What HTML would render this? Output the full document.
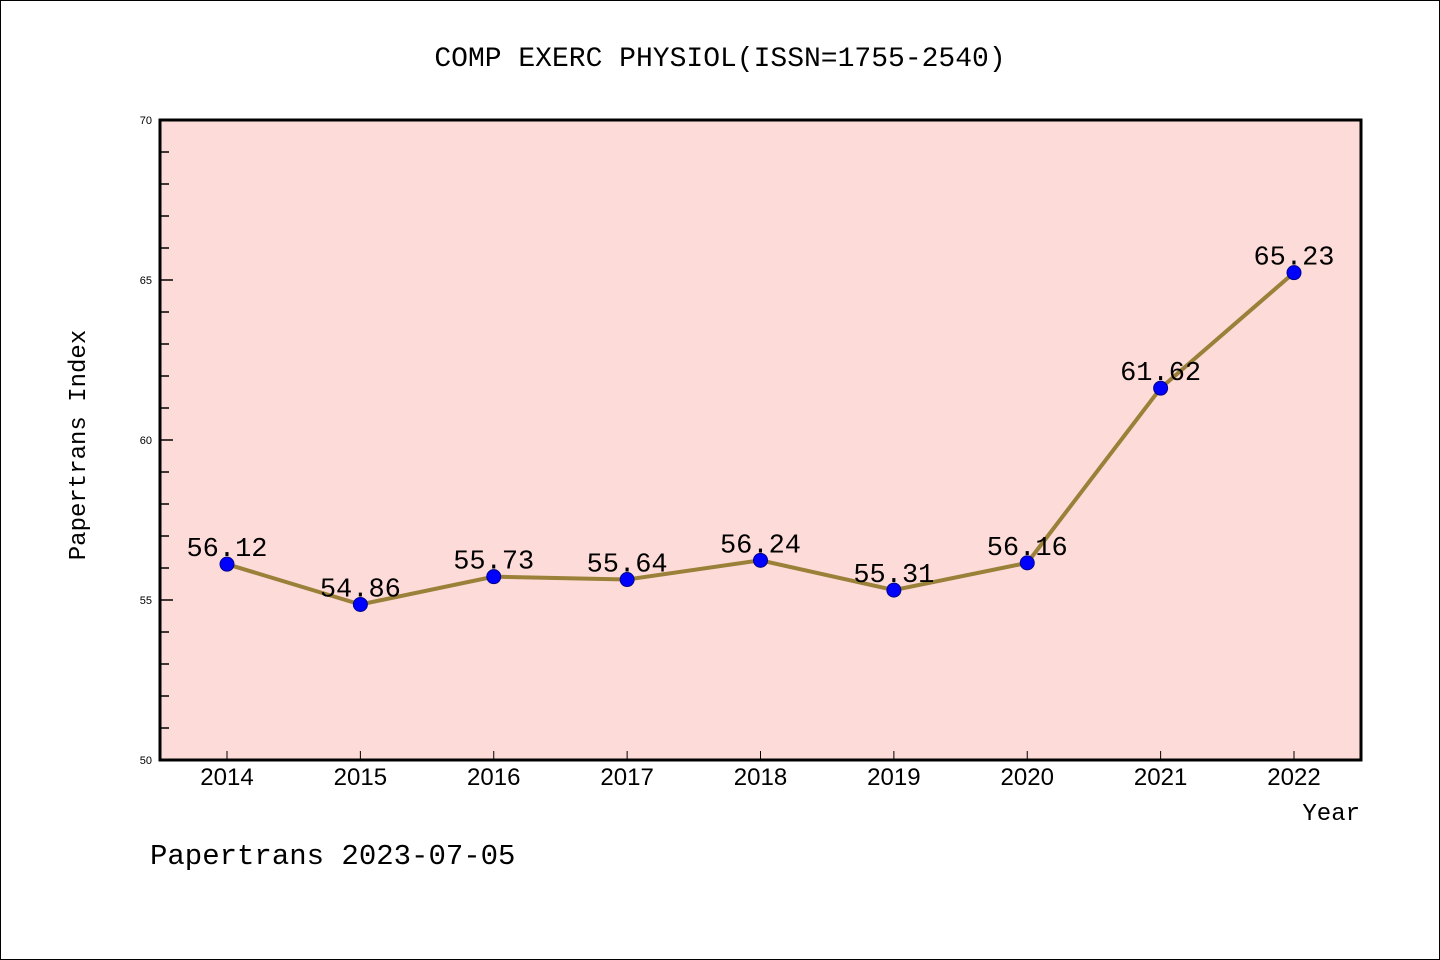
<!DOCTYPE html>
<html><head><meta charset="utf-8"><style>
body{margin:0;background:#fff}
svg{display:block;font-family:"Liberation Mono","WenQuanYi Zen Hei",monospace}
</style></head><body>
<svg id="chart" width="1440" height="960" viewBox="0 0 1440 960">
<rect x="0.5" y="0.5" width="1439" height="959" fill="#fff" stroke="#000"/>
<text x="720" y="66" text-anchor="middle" font-size="28">COMP EXERC PHYSIOL(ISSN=1755-2540)</text>
<rect x="160" y="120" width="1201" height="640" fill="#fddbd8"/>
<g id="yaxis"></g>
<g id="xaxis"></g>
<g id="series"></g>
<rect x="160" y="120" width="1201" height="640" fill="none" stroke="#000" stroke-width="3"/>
<text transform="translate(85,445) rotate(-90)" text-anchor="middle" font-size="24">Papertrans Index</text>
<text x="1360" y="820" text-anchor="end" font-size="24">Year</text>
<text x="150" y="864" font-size="29">Papertrans 2023-07-05</text>
</svg>
<script>
const years = ["2014","2015","2016","2017","2018","2019","2020","2021","2022"];
const values = [56.12,54.86,55.73,55.64,56.24,55.31,56.16,61.62,65.23];
const yTicks = [50,55,60,65,70];
const NS="http://www.w3.org/2000/svg";
const X0=227,XS=(1294-227)/8,yMin=50,yMax=70,Ytop=120,Ybot=760;
const xs=i=>X0+i*XS;
const ys=v=>Ybot-(v-yMin)/(yMax-yMin)*(Ybot-Ytop);
function mk(t,a,p){const e=document.createElementNS(NS,t);for(const k in a)e.setAttribute(k,a[k]);p.appendChild(e);return e;}
const ya=document.getElementById('yaxis'),xa=document.getElementById('xaxis'),se=document.getElementById('series');
for(let v=yMin;v<=yMax;v++){
  const major=yTicks.includes(v);
  const l=mk('line',{x1:160,x2:major?173:169,y1:ys(v),y2:ys(v),stroke:'#000','stroke-width':1.5},ya);
  
  
}
yTicks.forEach(v=>{
  const t=mk('text',{x:152,y:ys(v)+4,'text-anchor':'end','font-size':11,'font-family':'Liberation Sans,sans-serif'},ya);
  t.textContent=v;
  
  
});
years.forEach((y,i)=>{
  const l=mk('line',{x1:xs(i),x2:xs(i),y1:Ybot,y2:Ybot-9,stroke:'#000','stroke-width':1},xa);
  
  
  const t=mk('text',{x:xs(i),y:785,'text-anchor':'middle','font-size':24,'font-family':'Liberation Sans,sans-serif'},xa);
  t.textContent=y;
  
  
});
const pl=mk('polyline',{points:values.map((v,i)=>xs(i)+','+ys(v)).join(' '),fill:'none',stroke:'#9a8038','stroke-width':4},se);


values.forEach((v,i)=>{
  const c=mk('circle',{cx:xs(i),cy:ys(v),r:7,fill:'#0000ff',stroke:'#00008b','stroke-width':1},se);
  
  
  const t=mk('text',{x:xs(i),y:ys(v)-8,'text-anchor':'middle','font-size':27},se);
  t.textContent=v.toFixed(2);
  
  
});
</script>
</body></html>
